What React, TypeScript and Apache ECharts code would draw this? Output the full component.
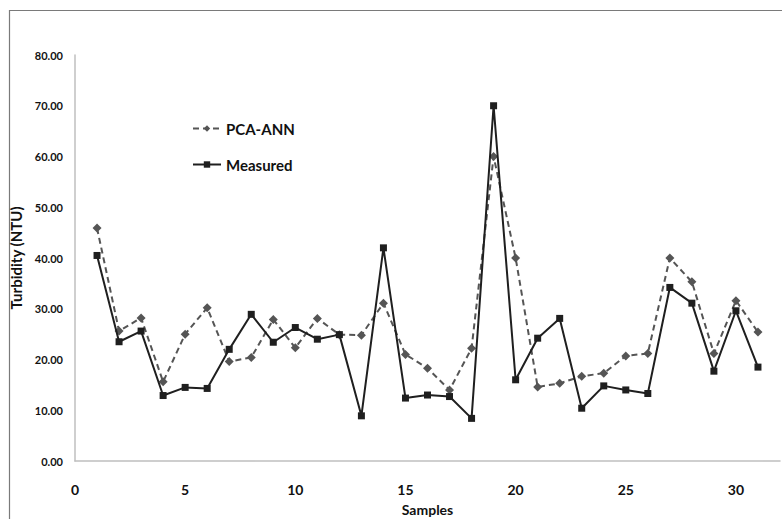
import React, { useEffect, useRef } from "react";
import * as echarts from "echarts";

const samples = [1,2,3,4,5,6,7,8,9,10,11,12,13,14,15,16,17,18,19,20,21,22,23,24,25,26,27,28,29,30,31];
const pcaAnn = [45.9,25.6,28.2,15.6,25.0,30.2,19.6,20.4,27.9,22.3,28.1,24.9,24.8,31.1,21.0,18.3,14.0,22.2,60.0,40.0,14.6,15.3,16.7,17.3,20.7,21.2,40.0,35.3,21.2,31.6,25.4];
const measured = [40.5,23.5,25.6,12.9,14.5,14.3,22.0,28.9,23.4,26.3,24.0,24.9,8.9,42.0,12.4,13.0,12.7,8.4,70.0,16.0,24.2,28.1,10.4,14.8,14.0,13.3,34.2,31.1,17.7,29.6,18.5];
const seriesNames = ["PCA-ANN", "Measured"];
const xAxisTitle = "Samples";
const yAxisTitle = "Turbidity (NTU)";

const FONT = "Lato, 'Open Sans', sans-serif";

export default function App() {
  const ref = useRef<HTMLDivElement>(null);
  useEffect(() => {
    if (!ref.current) return;
    const chart = echarts.init(ref.current, undefined, { renderer: "svg" });
    chart.setOption({
      animation: false,
      backgroundColor: "#ffffff",
      textStyle: { fontFamily: FONT },
      graphic: [
        {
          type: "rect",
          shape: { x: 9.5, y: 10.5, width: 900, height: 700 },
          style: { fill: "none", stroke: "#7a7a7a", lineWidth: 1.2 },
          silent: true,
          z: -1,
        },
      ],
      legend: {
        orient: "vertical",
        left: 187,
        top: 116,
        itemGap: 21,
        itemWidth: 28,
        itemHeight: 8,
        textStyle: { fontFamily: FONT, fontWeight: "bold", fontSize: 15, color: "#111" },
        data: seriesNames,
      },
      grid: { left: 75, top: 55, right: 2, bottom: 58, containLabel: false, outerBoundsMode: "none" },
      xAxis: {
        type: "value",
        min: 0,
        max: 32,
        interval: 5,
        name: xAxisTitle,
        nameLocation: "middle",
        nameGap: 41,
        nameTextStyle: { fontFamily: FONT, fontWeight: "bold", fontSize: 14, color: "#111" },
        axisLine: { show: true, lineStyle: { color: "#bfbfbf", width: 1.5 } },
        axisTick: { show: false },
        splitLine: { show: false },
        axisLabel: {
          margin: 21,
          fontFamily: FONT,
          fontWeight: "bold",
          fontSize: 14,
          color: "#111",
          formatter: (v: number) => (v % 5 === 0 ? String(v) : ""),
        },
      },
      yAxis: {
        type: "value",
        min: 0,
        max: 80,
        interval: 10,
        name: yAxisTitle,
        nameLocation: "middle",
        nameGap: 45,
        nameTextStyle: { fontFamily: FONT, fontWeight: "bold", fontSize: 15, color: "#111" },
        axisLine: { show: true, lineStyle: { color: "#bfbfbf", width: 1.5 } },
        axisTick: { show: false },
        splitLine: { show: false },
        axisLabel: {
          margin: 12,
          fontFamily: FONT,
          fontWeight: "bold",
          fontSize: 11,
          color: "#111",
          formatter: (v: number) => v.toFixed(2),
        },
      },
      series: [
        {
          name: seriesNames[0],
          type: "line",
          data: samples.map((s, i) => [s, pcaAnn[i]]),
          symbol: "diamond",
          symbolSize: 9,
          lineStyle: { color: "#555555", width: 2, type: [6, 4] },
          itemStyle: { color: "#555555" },
          z: 2,
        },
        {
          name: seriesNames[1],
          type: "line",
          data: samples.map((s, i) => [s, measured[i]]),
          symbol: "rect",
          symbolSize: 7,
          lineStyle: { color: "#1f1f1f", width: 2 },
          itemStyle: { color: "#1f1f1f" },
          z: 3,
        },
      ],
    });
    return () => chart.dispose();
  }, []);
  return (
    <div
      ref={ref}
      style={{ position: "fixed", left: 0, top: 0, width: 782, height: 519 }}
    />
  );
}
